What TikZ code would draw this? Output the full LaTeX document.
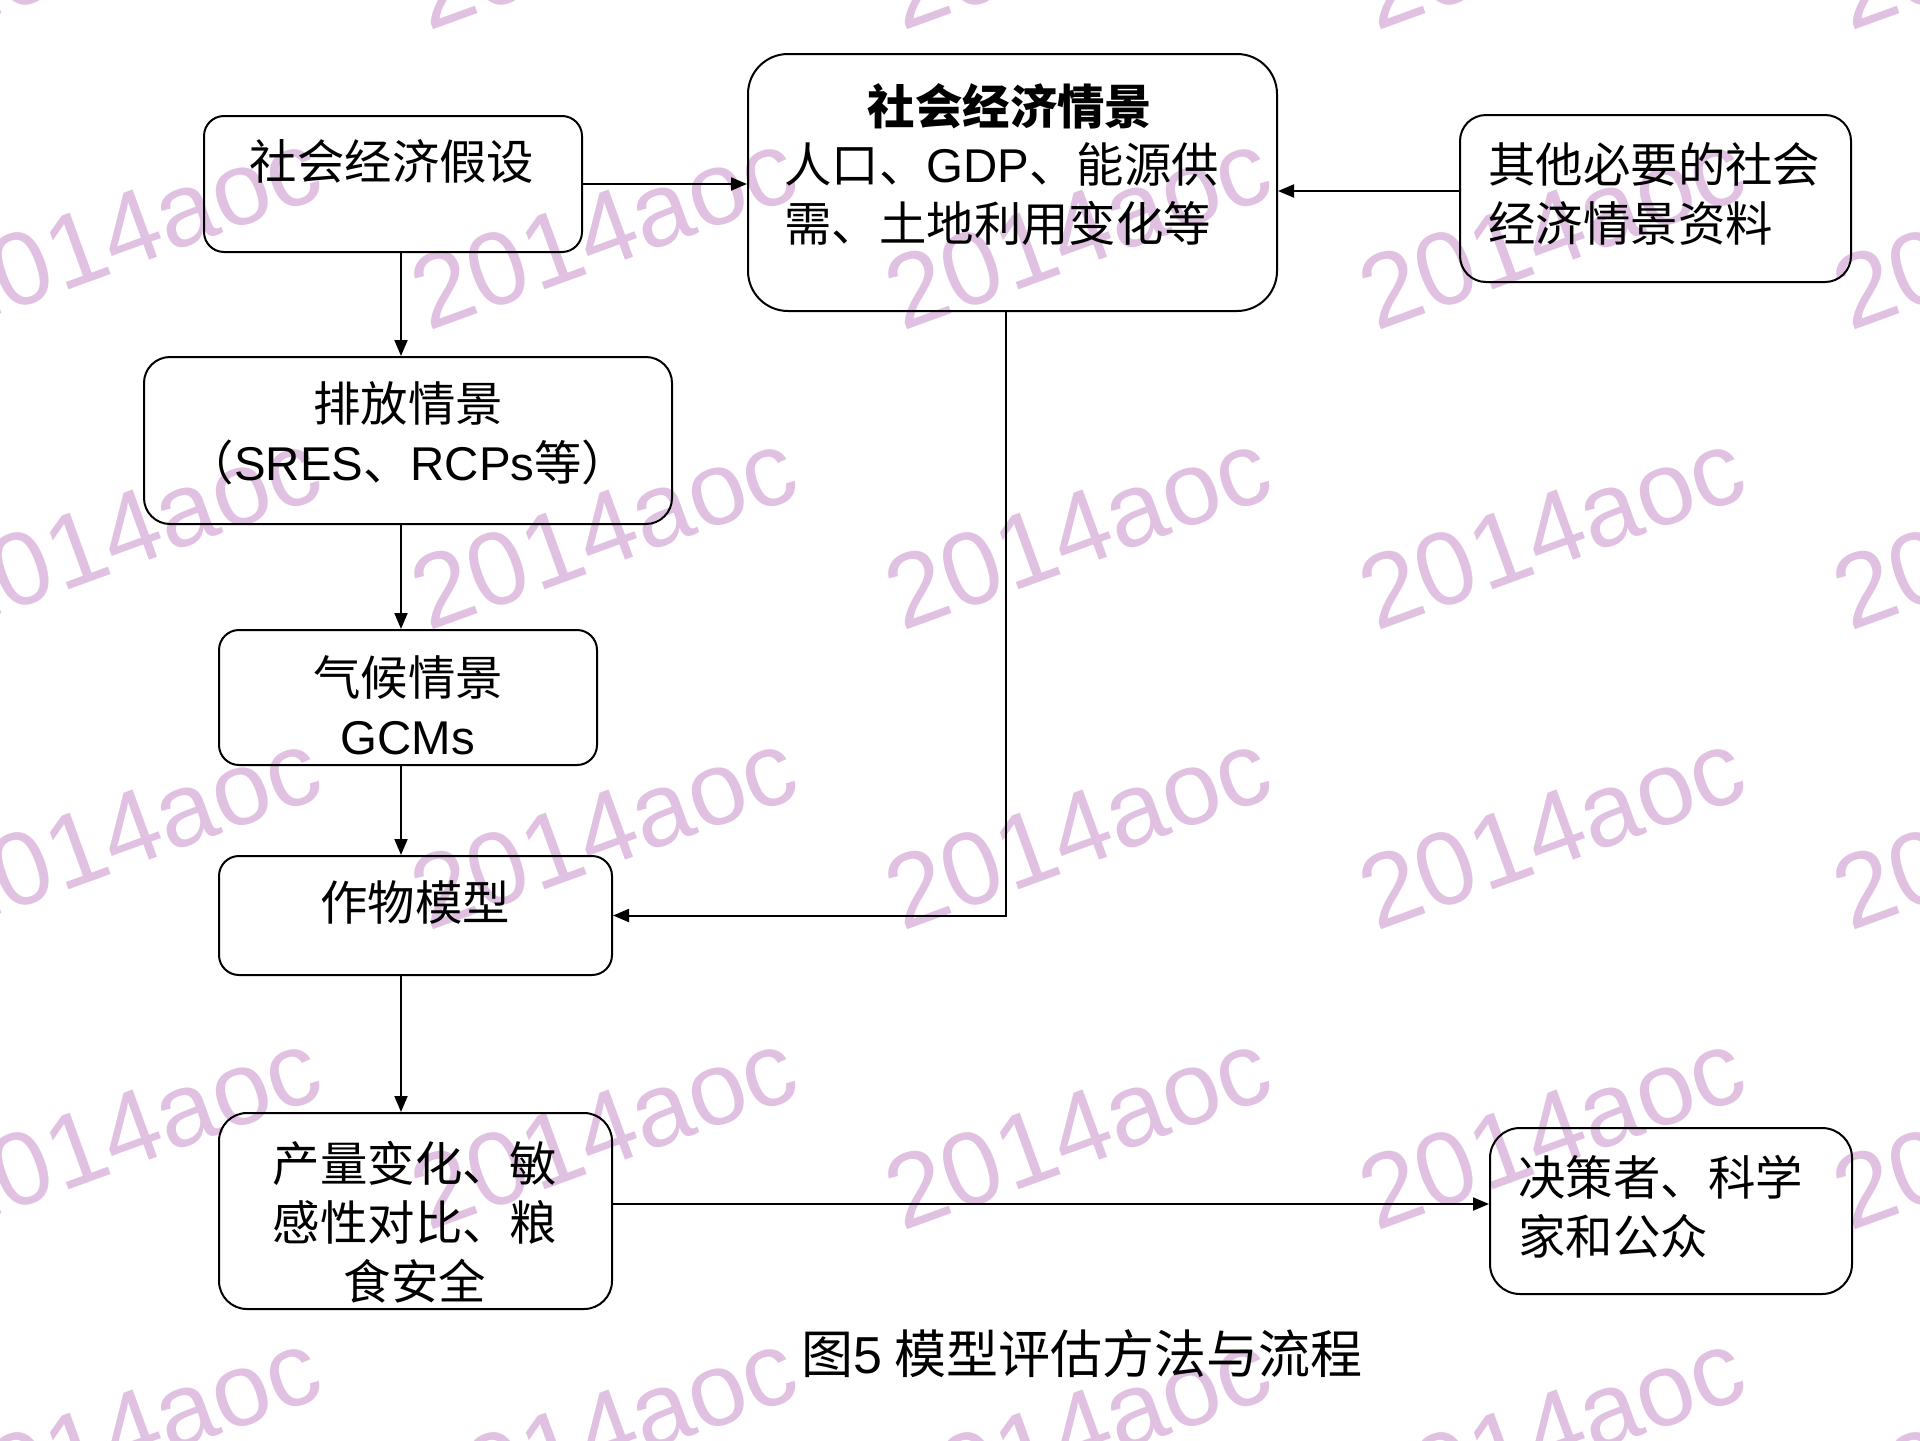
\documentclass[tikz,border=0pt]{standalone}
\usepackage{fontspec}
\setmainfont{Noto Sans CJK SC}
\newfontfamily\lat{Liberation Sans}
\usetikzlibrary{arrows.meta}
\definecolor{wm}{RGB}{225,193,225}
\begin{document}
\begin{tikzpicture}[x=0.5pt,y=-0.5pt,
  box/.style={draw, line width=1pt, rounded corners=10pt, inner sep=0pt},
  txt/.style={font=\fontsize{23.7}{29.5}\selectfont, inner sep=0pt},
  txtb/.style={font=\fontsize{23.7}{29.5}\selectfont\bfseries, inner sep=0pt},
  arr/.style={line width=1pt, -{Triangle[length=8pt,width=6.5pt]}},
  wmk/.style={text=wm, font=\lat\fontsize{52}{52}\selectfont, rotate=20, anchor=base west, inner sep=0pt}]
\useasboundingbox (0,0) rectangle (1920,1440);
\fill[white] (0,0) rectangle (1920,1440);

% watermark (background)
\begin{scope}
\clip (0,0) rectangle (1920,1440);
\foreach \i in {-48,428,902,1376,1850}{
  \foreach \j in {32,332,632,932,1232,1532}{
    \node[wmk] (wm\i-\j) at (\i,\j) {2014aoc};
  }
}
\end{scope}

% boxes
\node[box, minimum width=189pt, minimum height=68pt] (b1) at (393,184) {};
\node[box, rounded corners=20pt, minimum width=264.5pt, minimum height=128.5pt] (b2) at (1012.5,182.5) {};
\node[box, rounded corners=13pt, minimum width=195.5pt, minimum height=83.5pt] (b3) at (1655.5,198.5) {};
\node[box, rounded corners=13pt, minimum width=264pt, minimum height=83.5pt] (b4) at (408,440.5) {};
\node[box, minimum width=189pt, minimum height=67.5pt] (b5) at (408,697.5) {};
\node[box, minimum width=196.5pt, minimum height=59.5pt] (b6) at (415.5,915.5) {};
\node[box, rounded corners=14pt, minimum width=196.5pt, minimum height=98pt] (b7) at (415.5,1211) {};
\node[box, rounded corners=15pt, minimum width=181pt, minimum height=83pt] (b8) at (1671,1211) {};

% texts
\node[txt] (t1) at (392,161) {社会经济假设};
\node[txtb] (t2a) at (1010,106) {社会经济情景};
\node[txt, anchor=west, align=left] (t2b) at (784,194) {人口、{\lat GDP}、能源供\\需、土地利用变化等};
\node[txt, anchor=west, align=left] (t3) at (1488,194) {其他必要的社会\\经济情景资料};
\node[txt, align=center] (t4) at (408,433) {排放情景\\（{\lat SRES}、{\lat RCPs}等）};
\node[txt, align=center] (t5) at (408,705) {气候情景\\{\lat GCMs}};
\node[txt] (t6) at (415,902) {作物模型};
\node[txt, align=center] (t7) at (415,1222) {产量变化、敏\\感性对比、粮\\食安全};
\node[txt, anchor=west, align=left] (t8) at (1518,1207) {决策者、科学\\家和公众};
\node[txt, font=\fontsize{26}{30}\selectfont] (cap) at (1082,1354) {图{\lat 5} 模型评估方法与流程};

% connectors
\coordinate (vx) at (401,0);
\coordinate (vx2) at (1006,0);
\coordinate (hy3) at (0,191);
\coordinate (hy7) at (0,1204);
\draw[arr] (b1.east) -- (b1.east -| b2.west);
\draw[arr] (b1.south -| vx) -- (b4.north -| vx);
\draw[arr] (b4.south -| vx) -- (b5.north -| vx);
\draw[arr] (b5.south -| vx) -- (b6.north -| vx);
\draw[arr] (b6.south -| vx) -- (b7.north -| vx);
\draw[arr] (b2.south -| vx2) |- (b6.east);
\draw[arr] (b3.west |- hy3) -- (b2.east |- hy3);
\draw[arr] (b7.east |- hy7) -- (b8.west |- hy7);
\end{tikzpicture}
\end{document}
